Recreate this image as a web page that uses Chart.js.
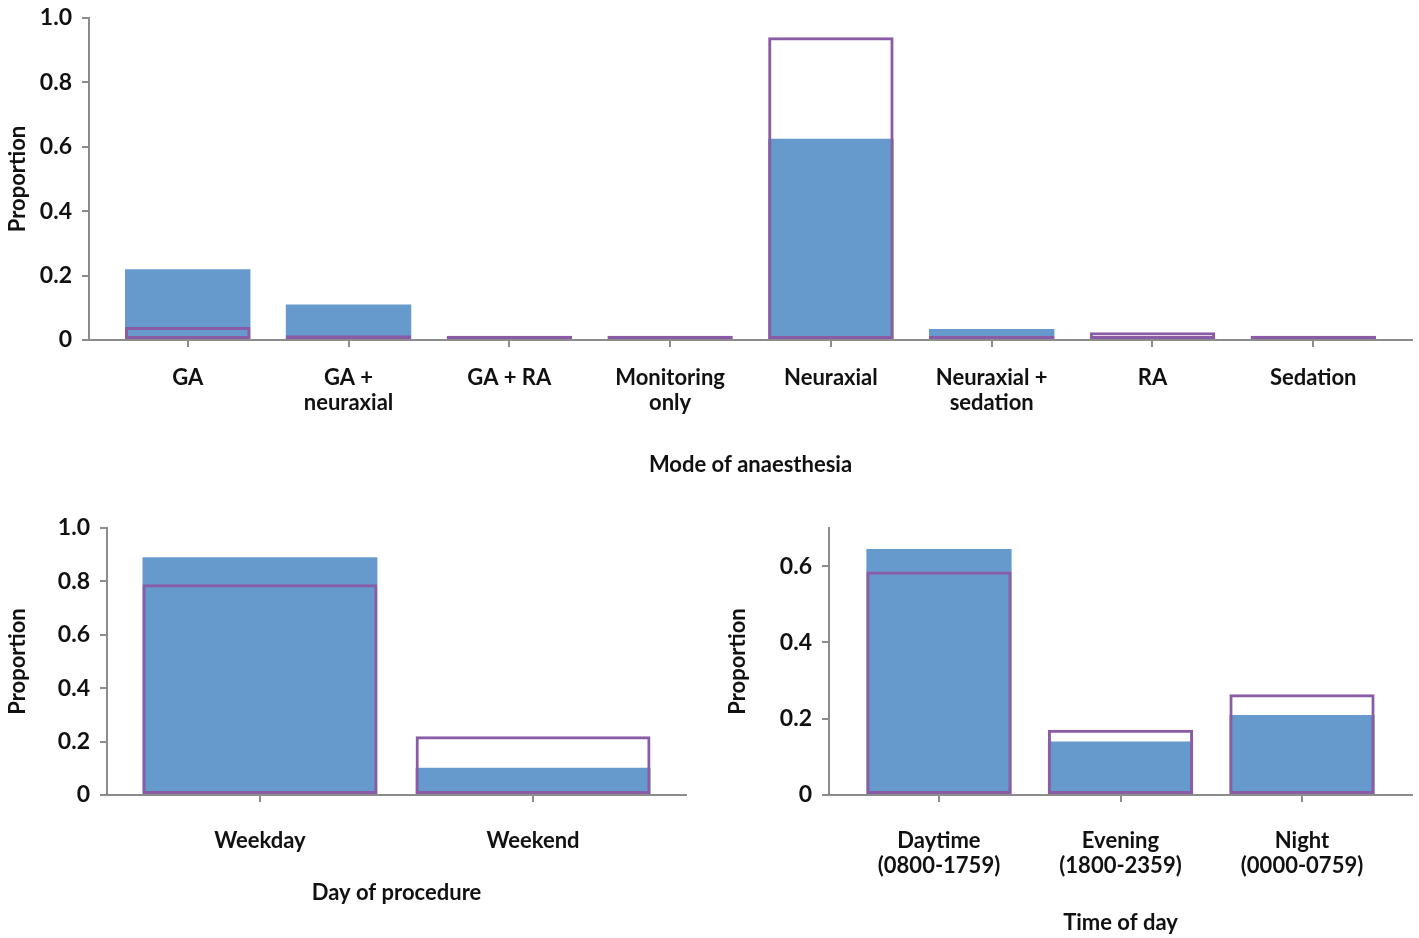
<!DOCTYPE html>
<html>
<head>
<meta charset="utf-8">
<script src="https://cdn.jsdelivr.net/npm/chart.js@4/dist/chart.umd.min.js"></script>
<style>
  body { margin: 0; background: #fff; width: 1419px; height: 938px; position: relative; overflow: hidden; }
  canvas { position: absolute; }
</style>
</head>
<body>
<canvas id="modeChart" style="left:0;top:0" width="1419" height="480"></canvas>
<canvas id="dayChart" style="left:0;top:500px" width="710" height="410"></canvas>
<canvas id="timeChart" style="left:720px;top:500px" width="699" height="438"></canvas>
<script>
// Mode of anaesthesia
const modeLabels = [['GA'], ['GA +', 'neuraxial'], ['GA + RA'], ['Monitoring', 'only'], ['Neuraxial'], ['Neuraxial +', 'sedation'], ['RA'], ['Sedation']];
const modeFilled = [0.22, 0.11, 0, 0, 0.625, 0.034, 0, 0];
const modeOutline = [0.04, 0.015, 0.013, 0.013, 0.94, 0.013, 0.024, 0.013];
const modeYTicks = [0, 0.2, 0.4, 0.6, 0.8, 1.0];

// Day of procedure
const dayLabels = ['Weekday', 'Weekend'];
const dayFilled = [0.89, 0.102];
const dayOutline = [0.789, 0.22];
const dayYTicks = [0, 0.2, 0.4, 0.6, 0.8, 1.0];

// Time of day
const timeLabels = [['Daytime', '(0800-1759)'], ['Evening', '(1800-2359)'], ['Night', '(0000-0759)']];
const timeFilled = [0.645, 0.14, 0.21];
const timeOutline = [0.586, 0.171, 0.264];
const timeYTicks = [0, 0.2, 0.4, 0.6];

const blue = '#6699CC';
const purple = '#8B5CA6';
const axisGrey = '#8C8C8C';
const txt = '#111111';
const fnt = { family: 'Lato', weight: 'bold', size: 22, lineHeight: 1.14 };

function barChart(id, labels, filled, outline, yTicks, cfg) {
  const n = labels.length;
  const xMin = -0.5 - cfg.pad, xMax = n - 0.5 + cfg.pad;
  new Chart(document.getElementById(id), {
    type: 'bar',
    data: {
      datasets: [
        { label: 'Filled', data: filled.map((v, i) => ({ x: i, y: v })), backgroundColor: blue,
          borderWidth: 0, order: 1 },
        { label: 'Outline', data: outline.map((v, i) => ({ x: i, y: v })), backgroundColor: 'rgba(0,0,0,0)',
          borderColor: purple, borderWidth: 3, borderSkipped: false, order: 0 }
      ]
    },
    options: {
      responsive: false,
      animation: false,
      layout: { padding: cfg.padding },
      datasets: { bar: { grouped: false, barPercentage: 1, categoryPercentage: cfg.barPct } },
      plugins: { legend: { display: false }, tooltip: { enabled: false } },
      scales: {
        x: {
          type: 'linear',
          offset: false,
          bounds: 'data',
          min: xMin,
          max: xMax,
          afterBuildTicks: s => {
            s.ticks = labels.map((_, i) => ({ value: i }));
            s.min = xMin; s.max = xMax;
          },
          afterFit: s => { s.height = cfg.xHeight; },
          ticks: { autoSkip: false, maxRotation: 0, padding: cfg.xPad, color: txt, font: fnt,
                   callback: v => labels[v] },
          grid: { offset: false, drawOnChartArea: false, tickLength: 7, color: axisGrey, lineWidth: 2 },
          border: { color: axisGrey, width: 2 },
          title: { display: true, text: cfg.xTitle, color: txt, font: { ...fnt, lineHeight: 1.2 },
                   padding: { top: 0, bottom: 2 } }
        },
        y: {
          min: 0,
          max: cfg.yMax,
          afterBuildTicks: s => { s.ticks = yTicks.map(v => ({ value: v })); },
          afterFit: s => { s.width = cfg.yWidth; s.paddingTop = 0; s.paddingBottom = 0; },
          ticks: { padding: 10, color: txt, font: { ...fnt, size: 23 },
                   callback: v => v === 0 ? '0' : v.toFixed(1) },
          grid: { drawOnChartArea: false, tickLength: 7, color: axisGrey, lineWidth: 2 },
          border: { color: axisGrey, width: 2 },
          title: { display: true, text: 'Proportion', color: txt, font: { ...fnt, lineHeight: 1.2 },
                   padding: { top: 5, bottom: 0 } }
        }
      }
    }
  });
}

barChart('modeChart', modeLabels, modeFilled, modeOutline, modeYTicks, {
  padding: { top: 18, right: 7, bottom: 0, left: 0 },
  pad: 0.114, barPct: 0.78, xHeight: 140, yWidth: 89, xPad: 18, yMax: 1.0,
  xTitle: 'Mode of anaesthesia'
});

barChart('dayChart', dayLabels, dayFilled, dayOutline, dayYTicks, {
  padding: { top: 28, right: 24, bottom: 2, left: 0 },
  pad: 0.06, barPct: 0.86, xHeight: 113, yWidth: 107, xPad: 26, yMax: 1.0,
  xTitle: 'Day of procedure'
});

barChart('timeChart', timeLabels, timeFilled, timeOutline, timeYTicks, {
  padding: { top: 28, right: 7, bottom: 0, left: 0 },
  pad: 0.106, barPct: 0.80, xHeight: 143, yWidth: 109, xPad: 26, yMax: 0.7,
  xTitle: 'Time of day'
});
</script>
</body>
</html>
